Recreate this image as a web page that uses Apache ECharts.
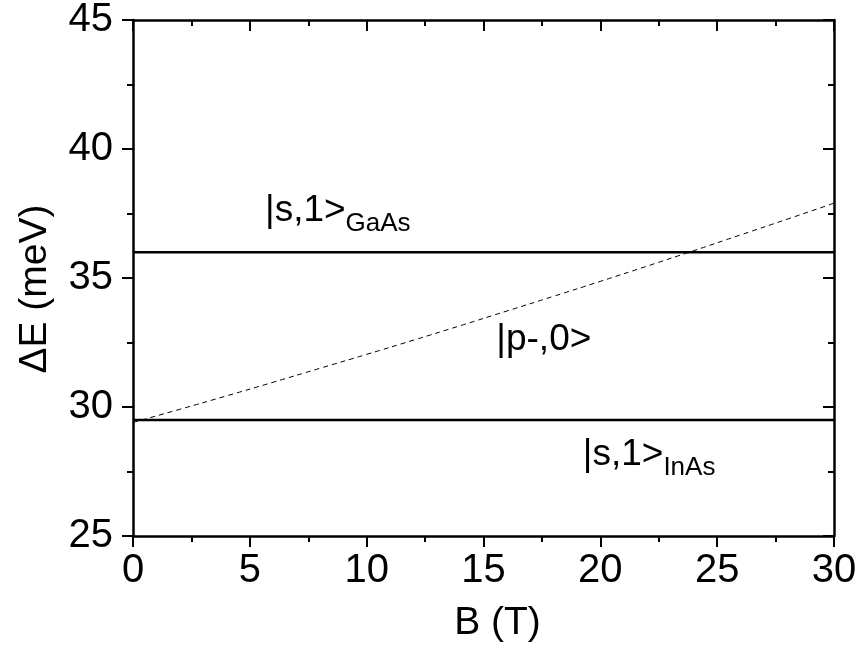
<!DOCTYPE html>
<html>
<head>
<meta charset="utf-8">
<script src="https://cdn.jsdelivr.net/npm/echarts@6/dist/echarts.min.js"></script>
<style>html,body{margin:0;padding:0;background:#fff;}#c{width:860px;height:652px;}</style>
</head>
<body>
<div id="c"></div>
<script>
// Magnetic field (T)
var fieldB = [0, 2, 4, 6, 8, 10, 12, 14, 16, 18, 20, 22, 24, 26, 28, 30];
// |p-,0> transition energy (meV)
var pMinusE = [29.40, 29.91, 30.43, 30.96, 31.50, 32.04, 32.59, 33.15, 33.72, 34.29, 34.87, 35.46, 36.06, 36.67, 37.28, 37.90];
// constant levels (meV)
var sGaAsLevel = 36.0;
var sInAsLevel = 29.5;
// annotation anchors [B, E] and texts
var labelAnchors = [[5.65, 37.6], [15.55, 32.6], [19.25, 28.15]];
var labelTexts = ['{m||s,1>}{s|GaAs}', '{m||p-,0>}', '{m||s,1>}{s|InAs}'];

var FONT = '"Liberation Sans", Arial, sans-serif';
var chart = echarts.init(document.getElementById('c'), null, {renderer: 'canvas'});

function axisBase(extra) {
  var base = {
    axisLine: {show: true, onZero: false, lineStyle: {color: '#000', width: 2.5}},
    splitLine: {show: false}
  };
  return Object.assign(base, extra);
}

var option = {
  backgroundColor: '#fff',
  animation: false,
  grid: {left: 133, right: 26, top: 20, bottom: 116},
  xAxis: [
    axisBase({
      type: 'value', min: 0, max: 30, interval: 5, position: 'bottom',
      name: 'B (T)', nameLocation: 'middle', nameGap: 68,
      nameTextStyle: {fontFamily: FONT, fontSize: 39, color: '#000', padding: [0, 0, 0, 28]},
      axisTick: {show: true, inside: false, length: 11, lineStyle: {width: 2, color: '#000'}},
      minorTick: {show: true, splitNumber: 2, length: 6, lineStyle: {width: 2, color: '#000'}},
      axisLabel: {fontFamily: FONT, fontSize: 40, color: '#000', margin: 15}
    }),
    axisBase({
      type: 'value', min: 0, max: 30, interval: 5, position: 'top',
      axisTick: {show: true, inside: true, length: 11, lineStyle: {width: 2, color: '#000'}},
      minorTick: {show: true, splitNumber: 2, length: 6, lineStyle: {width: 2, color: '#000'}},
      axisLabel: {show: false}
    })
  ],
  yAxis: [
    axisBase({
      type: 'value', min: 25, max: 45, interval: 5, position: 'left',
      name: '\u0394E (meV)', nameLocation: 'middle', nameGap: 78, nameRotate: 90,
      nameTextStyle: {fontFamily: FONT, fontSize: 39, color: '#000', padding: [0, 22, 0, 0]},
      axisTick: {show: true, inside: false, length: 11, lineStyle: {width: 2, color: '#000'}},
      minorTick: {show: true, splitNumber: 2, length: 6, lineStyle: {width: 2, color: '#000'}},
      axisLabel: {fontFamily: FONT, fontSize: 40, color: '#000', margin: 20}
    }),
    axisBase({
      type: 'value', min: 25, max: 45, interval: 5, position: 'right',
      axisTick: {show: true, inside: true, length: 11, lineStyle: {width: 2, color: '#000'}},
      minorTick: {show: true, splitNumber: 2, length: 6, lineStyle: {width: 2, color: '#000'}},
      axisLabel: {show: false}
    })
  ],
  series: [
    {
      type: 'line', xAxisIndex: 0, yAxisIndex: 0, symbol: 'none', smooth: true,
      data: fieldB.map(function (b, i) { return [b, pMinusE[i]]; }),
      lineStyle: {color: '#000', width: 1, type: [5, 4]}
    },
    {
      type: 'line', xAxisIndex: 0, yAxisIndex: 0, symbol: 'none',
      data: [[fieldB[0], sGaAsLevel], [fieldB[fieldB.length - 1], sGaAsLevel]],
      lineStyle: {color: '#000', width: 2.5}
    },
    {
      type: 'line', xAxisIndex: 0, yAxisIndex: 0, symbol: 'none',
      data: [[fieldB[0], sInAsLevel], [fieldB[fieldB.length - 1], sInAsLevel]],
      lineStyle: {color: '#000', width: 2.5}
    },
    {
      type: 'scatter', xAxisIndex: 0, yAxisIndex: 0, symbolSize: 0, silent: true,
      itemStyle: {color: '#000', opacity: 1},
      data: labelAnchors.map(function (p) { return p; }),
      label: {
        show: true, position: 'inside', align: 'left', verticalAlign: 'middle',
        color: '#000', opacity: 1, textBorderWidth: 0,
        formatter: function (p) { return labelTexts[p.dataIndex]; },
        rich: {
          m: {fontFamily: FONT, fontSize: 37, color: '#000', textBorderWidth: 0},
          s: {fontFamily: FONT, fontSize: 26, color: '#000', textBorderWidth: 0, padding: [26, 0, 0, 0]}
        }
      }
    }
  ]
};
chart.setOption(option);
</script>
</body>
</html>
